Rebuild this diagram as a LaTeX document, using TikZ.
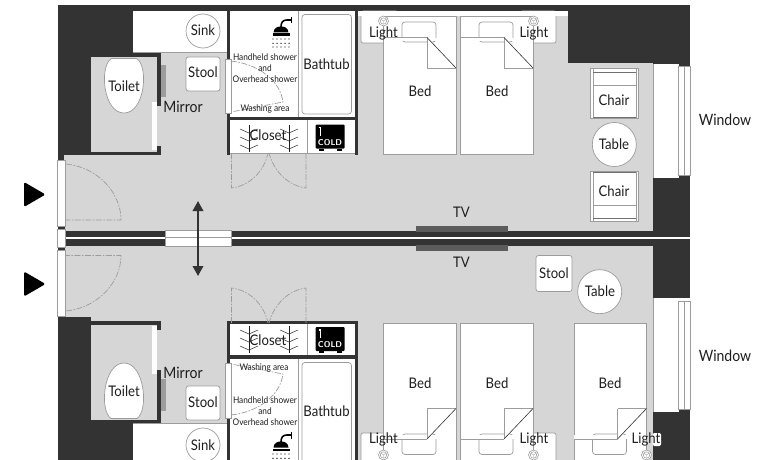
\documentclass[tikz,border=0pt]{standalone}
\usepackage{fontspec}
\setmainfont{Lato}
\usetikzlibrary{arrows.meta}
\definecolor{wallc}{HTML}{333333}
\definecolor{floorc}{HTML}{D6D6D6}
\definecolor{linec}{HTML}{9C9C9C}
\definecolor{inkc}{HTML}{1E1E1E}
\tikzset{
  wall/.style={fill=wallc,draw=none},
  floorarea/.style={fill=floorc,draw=none},
  whitearea/.style={fill=white,draw=none},
  furn/.style={fill=white,draw=linec,line width=0.7pt},
  thin line/.style={draw=linec,line width=0.7pt},
  swing/.style={draw=linec,line width=0.7pt,dash pattern=on 6pt off 1.5pt on 1.5pt off 1.5pt},
  lbl/.style={text=inkc,inner sep=0pt,xscale=0.9,font=\fontsize{14.6}{15}\selectfont},
  wide lbl/.style={text=inkc,inner sep=0pt,xscale=0.9,font=\fontsize{15.6}{16}\selectfont},
  small lbl/.style={text=inkc,inner sep=0pt,xscale=0.9,font=\fontsize{9.2}{10}\selectfont},
  pics/hangerpic/.style={code={
    \draw[inkc,line width=0.6pt] (0,-14)--(0,13);
    \foreach \yy in {-7,1,9}{\draw[inkc,line width=0.5pt] (-9,\yy-3)--(0,\yy+1)--(9,\yy-3);}
  }},
  pics/fridgepic/.style={code={
    \fill[black,rounded corners=1pt] (0,0) rectangle (29,24);
    \fill[black] (3,24) rectangle (8,26);\fill[black] (21,24) rectangle (26,26);
    \draw[white,line width=1.1pt] (3.2,3)--(5,3)--(5,11);
    \node[text=white,inner sep=0pt,font=\fontsize{8.4}{9}\bfseries\sffamily] (-t) at (14.5,18) {COLD};
  }},
  pics/showerpic/.style={code={
    \draw[black,line width=1.6pt] (12.5,0)--(12.5,6.5);
    \draw[black,line width=1.6pt] (12.5,3) -- (8,3) .. controls (4,3) and (2,5) .. (2,10);
    \fill[black] (-5.5,15.5) .. controls (-5,11) and (-2,9.5) .. (2,9.5) .. controls (6,9.5) and (9,11) .. (9.5,15.5) -- cycle;
    \fill[black] (-6.5,16.5) rectangle (10.5,19);
    \foreach \yy in {22,26.3,30}{
      \foreach \k in {0,1,2,3,4}{\fill[black] (-6+\k*4,\yy) circle (0.7);}
    }
  }},
}
\begin{document}
\begin{tikzpicture}[x=1pt,y=-1pt]
\useasboundingbox (0,0) rectangle (766,460);
\clip (0,0) rectangle (766,460);
\fill[white] (0,0) rectangle (766,460);
% ---------- floors
\fill[floorarea] (64,5) rectangle (653,232);
\fill[floorarea] (64,245) rectangle (653,460);
% ---------- top room walls
\fill[wall] (58,5) rectangle (690,11);
\fill[wall] (58,5) rectangle (133,53);
\fill[wall] (58,53) rectangle (91,155);
\fill[wall] (91,53) rectangle (161,57);
\fill[wall] (91,152) rectangle (161,155);
\fill[wall] (58,155) rectangle (64,160);
\fill[wall] (157,53) rectangle (161,106);
\fill[wall] (157,146) rectangle (161,155);
\fill[floorarea] (91.5,57) rectangle (157,152);
\fill[wall] (568,5) rectangle (690,63);
\fill[wall] (653,63) rectangle (690,66);
\fill[wall] (653,178) rectangle (690,232);
\fill[wall] (678,175) rectangle (690,178);
% white rooms top
\fill[whitearea] (133,11) rectangle (226.5,52);
\draw[thin line] (133,52.5) -- (226.5,52.5);
\fill[whitearea] (230,11) rectangle (355,153);
\fill[wall] (226.5,11) rectangle (230,155);
\fill[wall] (355,11) rectangle (358,155);
\fill[wall] (230,116.5) rectangle (355,120);
\draw[thin line] (298,11) -- (298,116.5);
\draw[thin line] (307,120) -- (307,153);
\draw[thin line] (230,153.3) -- (355,153.3);
\fill[whitearea] (358,11) rectangle (568,16);
% ---------- bottom room walls
\fill[wall] (58,316.5) rectangle (91,460);
\fill[wall] (58,321) rectangle (161,325);
\fill[wall] (91,420) rectangle (161,424);
\fill[wall] (91,420) rectangle (133,460);
\fill[floorarea] (91.5,325) rectangle (157,420);
\fill[wall] (157,321) rectangle (161,330);
\fill[wall] (157,370) rectangle (161,424);
\fill[wall] (653,246) rectangle (690,298);
\fill[wall] (653,410) rectangle (690,460);
\fill[whitearea] (133,424) rectangle (226.5,460);
\draw[thin line] (133,423.7) -- (226.5,423.7);
\fill[whitearea] (230,323) rectangle (355,460);
\fill[wall] (226.5,321) rectangle (230,460);
\fill[wall] (355,321) rectangle (358,460);
\fill[wall] (226.5,321) rectangle (358,323.5);
\fill[wall] (230,355) rectangle (355,358.5);
\draw[thin line] (298,358.5) -- (298,460);
\draw[thin line] (307,323.5) -- (307,355);
% ---------- central wall
\fill[white] (64,236.8) rectangle (766,239);
\fill[wall] (66,231) rectangle (690,237);
\fill[wall] (66,239) rectangle (690,245.7);
\fill[wall] (58,226.5) rectangle (65,229);
\fill[wall] (58,247.5) rectangle (65,250);
\fill[whitearea] (165,230.5) rectangle (231,246);
\draw[thin line] (165,230.5) rectangle (231,246);
\draw[thin line] (165,237.8) -- (231,237.8);
\fill[wallc!80!white] (416,226) rectangle (508,232);
\fill[wallc!80!white] (416,245) rectangle (508,250.5);
% ---------- doors, windows
\fill[white,draw=linec,line width=0.5pt] (57,160) rectangle (65.5,226.5);
\fill[white,draw=linec,line width=0.5pt] (57,229) rectangle (65.5,247.5);
\fill[white,draw=linec,line width=0.5pt] (57,250) rectangle (65.5,316);
\fill[whitearea] (152,102) rectangle (157,150);
\fill[whitearea] (152,326) rectangle (157,374);
\fill[linec] (161,65) rectangle (166,97);
\fill[linec] (161,379) rectangle (166,411);
\fill[white,draw=linec,line width=0.5pt] (225,59) rectangle (231,113.5);
\fill[white,draw=linec,line width=0.5pt] (225,363) rectangle (231,418);
\fill[whitearea] (653,64) rectangle (679,178);
\fill[whitearea] (653,298) rectangle (679,412);
\fill[white,draw=linec,line width=0.6pt] (678.5,66.5) rectangle (690,175);
\draw[thin line] (684,66.5) -- (684,175);
\fill[white,draw=linec,line width=0.6pt] (678.5,301) rectangle (690,409);
\draw[thin line] (684,301) -- (684,409);
\draw[thin line] (653,64) -- (653,178);
\draw[thin line] (653,298) -- (653,412);
% ---------- door swings
\draw[swing] (66,164) .. controls (97,167) and (121,192) .. (121,220) -- (66,220);
\draw[swing] (66,311) .. controls (97,308) and (121,283) .. (121,255.5) -- (66,255.5);
\draw[swing] (231.5,153) -- (231.5,188) .. controls (249,186) and (264,172) .. (268,153);
\draw[swing] (306,153) -- (306,188) .. controls (289,186) and (274,172) .. (269,153);
\draw[swing] (231.5,323) -- (231.5,288) .. controls (249,290) and (264,304) .. (268,323);
\draw[swing] (306,323) -- (306,288) .. controls (289,290) and (274,304) .. (269,323);
\draw[swing] (231,61) .. controls (258,64) and (280,80) .. (283,102) -- (231,112);
\draw[swing] (231,415) .. controls (258,412) and (280,396) .. (283,374) -- (231,364);
% ---------- toilets, stools, sinks
\path[furn] (111,58.5) .. controls (99,68) and (103.5,113) .. (124,113) .. controls (144.5,113) and (149,68) .. (137,58.5) -- cycle;
\path[furn] (111,418.5) .. controls (99,410) and (103.5,363) .. (124,363) .. controls (144.5,363) and (149,410) .. (137,418.5) -- cycle;
\draw[furn,rounded corners=2.5pt] (186,57) rectangle (220,91);
\draw[furn,rounded corners=2.5pt] (186,386) rectangle (220,420);
\draw[furn,rounded corners=2.5pt] (536,255.5) rectangle (572,291.5);
\draw[furn] (203,31) circle (17);
\draw[furn] (203,445) circle (17);
% ---------- bathtubs
\draw[furn,rounded corners=3pt] (302,14.5) rectangle (351.5,114);
\draw[furn,rounded corners=3pt] (302,362.5) rectangle (351.5,475);
% ---------- closet contents
\path (249,139) pic {hangerpic};
\path (289,139) pic {hangerpic};
\path (249,340) pic {hangerpic};
\path (289,340) pic {hangerpic};
\path (315.5,124.5) pic (fa) {fridgepic};
\path (315.5,327) pic (fb) {fridgepic};
\path (279,17) pic {showerpic};
\path (279,432) pic {showerpic};
% ---------- top beds
\draw[furn,rounded corners=2pt] (361,11) rectangle (398,43);
\draw[furn,rounded corners=2pt] (520,11) rectangle (556,43);
\fill[whitearea] (358,11) rectangle (568,16);
\foreach \xx in {383.5,460.5}{
  \draw[furn] (\xx,16) rectangle ++(72.5,138);
  \draw[furn,rounded corners=3pt] (\xx+18.5,22) rectangle ++(34,20);
  \fill[white] (\xx+0.4,37.8) rectangle ++(72,3);
  \draw[thin line] (\xx,37.5) -- ++(43.5,0);
  \fill[white] (\xx+43.5,37.5) -- (\xx+72.5,68) -- (\xx+43.5,68) -- cycle;
  \draw[thin line] (\xx+43.5,68) -- (\xx+72.5,68);
  \draw[thin line] (\xx+43.5,37.5) -- (\xx+43.5,68);
  \draw[wallc,line width=0.6pt] (\xx+43.5,37.5) -- (\xx+72.5,68);
}
% ---------- bottom beds
\draw[furn,rounded corners=2pt] (361,433) rectangle (398,470);
\draw[furn,rounded corners=2pt] (520,433) rectangle (556,470);
\foreach \xx in {383.5,460.5,574}{
  \draw[furn] (\xx,323) rectangle ++(72.5,150);
  \draw[furn,rounded corners=3pt] (\xx+18.5,434) rectangle ++(34,20.5);
  \fill[white] (\xx+0.4,435) rectangle ++(72,3.5);
  \draw[thin line] (\xx,439) -- ++(43.5,0);
  \fill[white] (\xx+43.5,439) -- (\xx+72.5,408.5) -- (\xx+43.5,408.5) -- cycle;
  \draw[thin line] (\xx+43.5,408.5) -- (\xx+72.5,408.5);
  \draw[thin line] (\xx+43.5,408.5) -- (\xx+43.5,439);
  \draw[wallc,line width=0.6pt] (\xx+43.5,439) -- (\xx+72.5,408.5);
}
% ---------- lamps
\foreach \xx/\yy in {383.5/21,533.5/21,383.5/455,533.5/455,646.5/455}{
  \draw[linec,fill=white,line width=0.6pt] (\xx,\yy) circle (5);
  \draw[linec,line width=0.5pt] (\xx,\yy) circle (3.2);
  \draw[linec,line width=0.4pt] (\xx-3,\yy-2)--(\xx,\yy)--(\xx+3,\yy-2) (\xx,\yy)--(\xx,\yy+3);
}
% ---------- chairs and tables
\draw[furn] (590.5,68.5) rectangle (638.5,118.5);
\draw[thin line] (593,68.5) -- (593,118.5) (636,68.5) -- (636,118.5) (593,85) -- (636,85);
\draw[draw=wallc!70!white,line width=0.35pt] (593,72) -- (636,72) (593,117) -- (636,117);
\draw[furn] (590.5,171) rectangle (638.5,221);
\draw[thin line] (593,171) -- (593,221) (636,171) -- (636,221) (593,205) -- (636,205);
\draw[draw=wallc!70!white,line width=0.35pt] (593,172.5) -- (636,172.5) (593,218) -- (636,218);
\draw[furn] (614.3,144.5) circle (22);
\draw[furn] (599.7,291.7) circle (22);
% ---------- entry marks and arrow
\fill[black,rounded corners=1.5pt] (24,182) -- (45.5,194.5) -- (24,207) -- cycle;
\fill[black,rounded corners=1.5pt] (24,271.5) -- (45.5,284) -- (24,296.5) -- cycle;
\coordinate (ara) at (198,201);
\coordinate (arb) at (198,276);
\draw[wallc,line width=1.8pt,{Triangle[width=10.5pt,length=10pt]}-{Triangle[width=10.5pt,length=10pt]}] (ara) -- (arb);
% ---------- halo behind the label that crosses the wall
\fill[white,rounded corners=1.5pt] (652.5,433) rectangle (661,446);
% ---------- labels
\node[lbl] (l1) at (203,30.5) {Sink};
\node[lbl] (l2) at (203,72.5) {Stool};
\node[lbl] (l3) at (124,86.5) {Toilet};
\node[wide lbl] (l4) at (183,106.5) {Mirror};
\node[lbl] (l5) at (326.5,64) {Bathtub};
\node[small lbl] (l6) at (265,57.5) {Handheld shower};
\node[small lbl] (l7) at (265,68.5) {and};
\node[small lbl] (l8) at (265,79) {Overhead shower};
\node[small lbl] (l9) at (265,108.5) {Washing area};
\node[lbl] (l10) at (268,135.5) {Closet};
\node[lbl] (l11) at (383.5,33) {Light};
\node[lbl] (l12) at (534,33) {Light};
\node[lbl] (l13) at (420,91) {Bed};
\node[lbl] (l14) at (497,91) {Bed};
\node[lbl] (l15) at (614,100) {Chair};
\node[lbl] (l16) at (614,144) {Table};
\node[lbl] (l17) at (614,191) {Chair};
\node[wide lbl] (l18) at (725,120) {Window};
\node[lbl] (l19) at (461.5,212) {TV};
\node[lbl] (m19) at (461.5,262) {TV};
\node[lbl] (m1) at (203,445.5) {Sink};
\node[lbl] (m2) at (203,402.5) {Stool};
\node[lbl] (m3) at (124,391) {Toilet};
\node[wide lbl] (m4) at (183,372.5) {Mirror};
\node[lbl] (m5) at (326.5,411) {Bathtub};
\node[small lbl] (m6) at (265,400.5) {Handheld shower};
\node[small lbl] (m7) at (265,411) {and};
\node[small lbl] (m8) at (265,422) {Overhead shower};
\node[small lbl] (m9) at (264,368) {Washing area};
\node[lbl] (m10) at (268,340) {Closet};
\node[lbl] (m11) at (383.5,439.5) {Light};
\node[lbl] (m12) at (534,439.5) {Light};
\node[lbl] (m13) at (646,439.5) {Light};
\node[lbl] (m14) at (420,383.5) {Bed};
\node[lbl] (m15) at (497,383.5) {Bed};
\node[lbl] (m16) at (610,383.5) {Bed};
\node[lbl] (m17) at (554,273.5) {Stool};
\node[lbl] (m18) at (600,291.5) {Table};
\node[wide lbl] (m20) at (725,355.5) {Window};
\end{tikzpicture}
\end{document}
